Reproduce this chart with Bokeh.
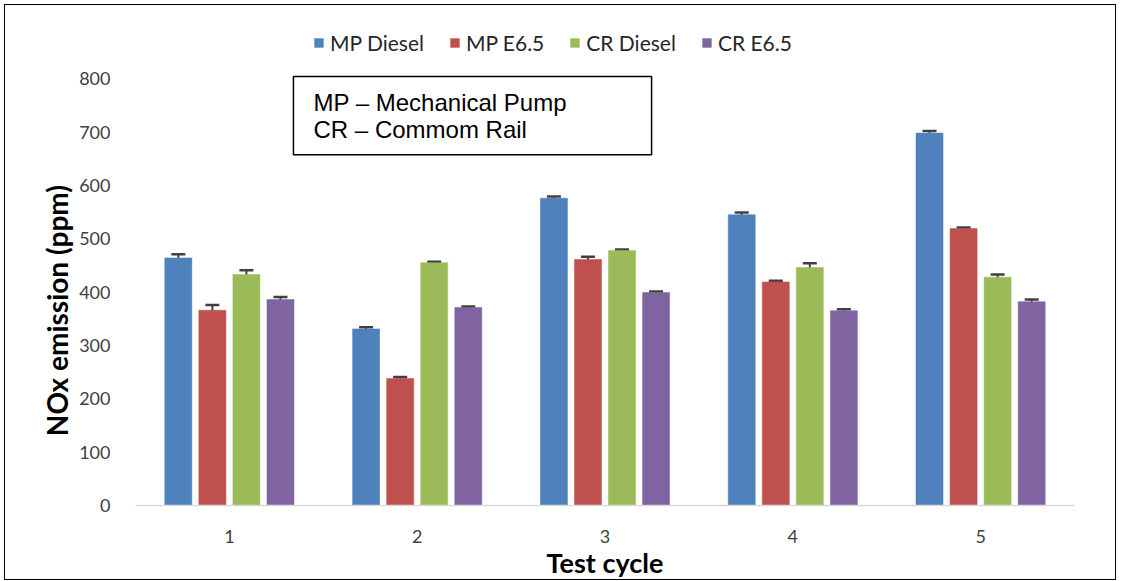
from bokeh.plotting import figure
from bokeh.models import (ColumnDataSource, FactorRange, Range1d, FixedTicker, Whisker,
                          TeeHead, Legend, LegendItem, BoxAnnotation, Label)
from bokeh.transform import dodge
from bokeh.embed import file_html
from bokeh.resources import INLINE

cycles = ["1", "2", "3", "4", "5"]
series = ["MP Diesel", "MP E6.5", "CR Diesel", "CR E6.5"]
colors = ["#4F81BD", "#C0504D", "#9BBB59", "#8064A2"]
mp_diesel = [464, 331, 576, 545, 698]
mp_diesel_err = [7, 3, 3, 4, 4]
mp_e65 = [366, 238, 461, 419, 519]
mp_e65_err = [10, 3, 5, 2, 2]
cr_diesel = [433, 455, 478, 446, 428]
cr_diesel_err = [8, 2, 2, 8, 5]
cr_e65 = [386, 371, 399, 365, 382]
cr_e65_err = [5, 2, 2, 3, 4]
y_ticks = [0, 100, 200, 300, 400, 500, 600, 700, 800]
note_lines = ["MP – Mechanical Pump", "CR – Commom Rail"]
y_title = "NOx emission (ppm)"
x_title = "Test cycle"

values = [mp_diesel, mp_e65, cr_diesel, cr_e65]
errors = [mp_diesel_err, mp_e65_err, cr_diesel_err, cr_e65_err]
offsets = [-0.272, -0.0906, 0.0906, 0.272]

p = figure(x_range=FactorRange(*cycles), y_range=Range1d(0, 909),
           width=1112, height=576, output_backend="svg", toolbar_location=None,
           min_border_left=130, min_border_right=43, min_border_top=15, min_border_bottom=75)
p.styles = {"border": "1.5px solid black", "margin-left": "4px", "margin-top": "4px"}
p.outline_line_color = None
p.xgrid.grid_line_color = None
p.ygrid.grid_line_color = None

items = []
for name, col, vals, errs, off in zip(series, colors, values, errors, offsets):
    src = ColumnDataSource(dict(x=cycles, top=vals,
                                upper=[v + e for v, e in zip(vals, errs)],
                                lower=[v - e for v, e in zip(vals, errs)]))
    r = p.vbar(x=dodge("x", off, range=p.x_range), top="top", width=0.144, source=src,
               fill_color=col, line_color=col, line_alpha=0.5)
    w = Whisker(base=dodge("x", off, range=p.x_range), upper="upper", lower="lower", source=src,
                line_color="#404040", line_width=2,
                upper_head=TeeHead(size=14, line_color="#404040", line_width=2.5),
                lower_head=TeeHead(size=14, line_color="#404040", line_width=2.5))
    p.add_layout(w)
    items.append(LegendItem(label=name, renderers=[r]))

legend = Legend(items=items, orientation="horizontal", location=(178, 450),
                glyph_width=11, glyph_height=11, label_standoff=6, spacing=25,
                padding=0, margin=0, border_line_color=None, background_fill_alpha=0,
                label_text_font="Lato", label_text_font_size="21px", label_text_color="#262626")
p.add_layout(legend, "center")

# note box
box = BoxAnnotation(left=0.841, right=2.748, bottom=657.6, top=804,
                    fill_alpha=0, line_color="black", line_alpha=1, line_width=1.5)
p.add_layout(box)
for txt, yy in zip(note_lines, [755, 704.5]):
    p.add_layout(Label(x=0.948, y=yy, text=txt, text_baseline="middle", text_align="left",
                       text_font="Liberation Sans", text_font_size="24px", text_color="black"))

p.yaxis.ticker = FixedTicker(ticks=y_ticks)
p.yaxis.axis_line_color = None
p.yaxis.major_tick_line_color = None
p.yaxis.minor_tick_line_color = None
p.yaxis.major_label_standoff = 19
p.yaxis.major_label_text_font = "Lato"
p.yaxis.major_label_text_font_size = "18px"
p.yaxis.major_label_text_color = "#404040"
p.yaxis.axis_label = y_title + "\u00a0" * 14
p.yaxis.axis_label_text_font = "Lato"
p.yaxis.axis_label_text_font_style = "bold"
p.yaxis.axis_label_text_font_size = "28px"
p.yaxis.axis_label_text_color = "black"
p.yaxis.axis_label_standoff = 2

p.xaxis.axis_line_color = "#d9d9d9"
p.xaxis.axis_line_width = 1.5
p.xaxis.major_tick_line_color = None
p.xaxis.minor_tick_line_color = None
p.xaxis.major_label_standoff = 18
p.xaxis.major_label_text_font = "Lato"
p.xaxis.major_label_text_font_size = "18px"
p.xaxis.major_label_text_color = "#404040"
p.xaxis.axis_label = x_title
p.xaxis.axis_label_text_font = "Lato"
p.xaxis.axis_label_text_font_style = "bold"
p.xaxis.axis_label_text_font_size = "27px"
p.xaxis.axis_label_text_color = "black"
p.xaxis.axis_label_standoff = 0

open("out.html", "w").write(file_html(p, INLINE))
